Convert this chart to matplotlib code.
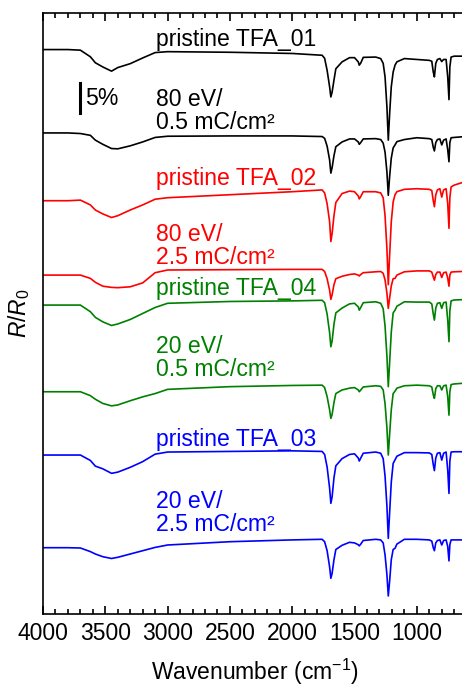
import numpy as np
import matplotlib
matplotlib.use('Agg')
import matplotlib.pyplot as plt

plt.rcParams['font.family'] = ['Liberation Sans', 'DejaVu Sans']
plt.rcParams['mathtext.fontset'] = 'custom'
plt.rcParams['mathtext.rm'] = 'Liberation Sans'
plt.rcParams['mathtext.it'] = 'Liberation Sans:italic'

# wavenumbers (cm-1) where the spectra were read
wn = [4000, 3800, 3700, 3620, 3580, 3520, 3450, 3400, 3300, 3200,
      3100, 3000, 2500, 2000, 1760, 1740, 1720, 1700, 1690, 1680,
      1665, 1650, 1600, 1540, 1500, 1470, 1462, 1450, 1430, 1330,
      1290, 1270, 1255, 1240, 1229, 1218, 1205, 1190, 1175, 1160,
      1100, 1000, 900, 880, 868, 859, 848, 835, 815, 800,
      785, 765, 752, 742, 735, 725, 700, 640]

# R/R0 in %, relative to each spectrum's value at 4000 cm-1
tfa01_pristine = [0, 0, -0.1, -1.2, -2.2, -2.9, -3.6, -3.0, -2.35, -1.4,
                  -0.5, -0.35, -0.45, -0.65, -0.95, -1.45, -3.45, -6.2, -7.9, -7.1,
                  -5.1, -3.2, -2.05, -1.35, -1.35, -2.05, -2.6, -2.25, -1.3, -1.25,
                  -1.5, -2.3, -4.55, -9.55, -15.1, -10.6, -6.2, -3.75, -2.6, -2.05,
                  -1.5, -1.65, -1.8, -1.95, -3.75, -4.55, -2.3, -1.65, -1.5, -2.0,
                  -1.65, -1.65, -4.55, -8.35, -2.9, -1.25, -1.1, -1.1]
tfa01_80ev = [0, 0, -0.1, -0.4, -1.2, -1.9, -2.6, -2.65, -2.15, -1.5,
              -0.75, -0.55, -0.5, -0.5, -0.6, -0.9, -2.2, -4.5, -6.7, -5.8,
              -3.8, -2.3, -1.5, -1.0, -1.0, -1.5, -1.9, -1.6, -1.0, -0.95,
              -1.1, -1.7, -3.2, -6.5, -10.4, -7.2, -4.2, -2.5, -2.0, -1.45,
              -1.1, -0.8, -0.95, -1.1, -2.4, -3.0, -1.6, -1.1, -1.0, -2.0,
              -1.2, -1.0, -2.8, -4.8, -1.6, -0.8, -0.75, -0.65]
tfa02_pristine = [0, 0, 0.1, -0.7, -1.55, -2.2, -2.8, -2.5, -1.55, -0.7,
                  0.25, 0.5, 1.0, 1.5, 1.8, 1.3, -0.5, -3.5, -6.8, -5.5,
                  -2.5, -0.3, 1.2, 1.6, 1.5, 0.8, 0.3, 0.7, 1.5, 1.5,
                  1.3, 0.5, -2.5, -8.0, -14.0, -9.0, -3.5, -0.2, 1.0, 1.5,
                  1.9, 2.0, 1.9, 1.7, 0.0, -1.0, 1.0, 1.8, 2.0, 0.6,
                  1.8, 2.0, -0.5, -4.6, 0.5, 2.3, 2.6, 3.0]
tfa02_80ev = [0, 0, 0, -0.55, -1.2, -1.85, -2.05, -2.1, -1.95, -1.3,
              0.4, 0.85, 0.9, 0.95, 0.95, 0.6, -0.6, -2.5, -4.05, -3.3,
              -1.6, -0.6, -0.2, 0.1, 0.2, 0.0, -0.15, 0.1, 0.4, 0.55,
              0.6, 0.3, -0.8, -3.0, -5.55, -3.8, -1.8, -0.6, -0.55, 0.0,
              0.55, 0.7, 0.7, 0.5, -0.3, -0.85, 0.1, 0.5, 0.5, -0.4,
              0.4, 0.5, -0.5, -1.85, 0.0, 0.5, 0.55, 0.6]
tfa04_pristine = [0, 0, 0, -1.1, -2.05, -2.8, -3.4, -3.15, -2.4, -1.4,
                  -0.4, 0.3, 0.6, 0.7, 0.8, 0.4, -1.5, -4.6, -6.95, -6.0,
                  -3.2, -1.3, -0.5, 0.2, 0.3, -0.3, -0.85, -0.4, 0.4, 0.55,
                  0.3, -0.6, -3.5, -8.5, -13.6, -9.5, -4.5, -1.3, -0.85, -0.2,
                  0.55, 0.5, 0.5, 0.2, -1.5, -2.5, -0.5, 0.3, 0.4, -0.55,
                  0.4, 0.5, -2.5, -6.1, -1.0, 0.7, 0.85, 0.9]
tfa04_20ev = [0, 0, 0, -0.65, -1.25, -1.95, -2.35, -2.2, -1.5, -0.85,
              -0.3, 0.4, 0.85, 1.05, 1.1, 0.7, -0.8, -3.0, -4.45, -3.8,
              -1.8, -0.3, 0.3, 0.6, 0.7, 0.3, 0.0, 0.3, 0.8, 1.0,
              0.9, 0.3, -2.0, -6.0, -10.55, -7.0, -3.0, -0.3, 0.1, 0.6,
              1.0, 1.1, 1.0, 0.8, -0.5, -1.1, 0.5, 1.0, 1.0, 0.3,
              1.0, 1.1, -0.8, -3.9, 0.0, 1.2, 1.3, 1.4]
tfa03_pristine = [0, 0, 0, -0.9, -1.85, -2.3, -3.05, -2.85, -2.05, -1.1,
                  0.15, 0.5, 0.6, 0.7, 0.6, 0.1, -2.0, -5.5, -8.05, -7.0,
                  -3.8, -1.8, -0.6, 0.1, 0.2, -0.5, -1.0, -0.5, 0.3, 0.5,
                  0.3, -0.6, -3.5, -8.5, -13.9, -9.5, -4.5, -1.4, -0.8, -0.2,
                  0.4, 0.4, 0.35, 0.1, -1.6, -2.6, -0.5, 0.3, 0.4, -0.85,
                  0.3, 0.5, -2.5, -6.4, -1.0, 0.5, 0.55, 0.55]
tfa03_20ev = [0, 0, -0.05, -0.65, -1.05, -1.5, -1.8, -1.6, -1.05, -0.5,
              0.05, 0.45, 1.0, 1.3, 1.4, 1.0, -0.5, -3.2, -5.1, -4.3,
              -2.0, -0.3, 0.4, 0.9, 0.8, 0.5, 0.3, 0.6, 1.2, 1.4,
              1.3, 0.8, -1.2, -4.5, -8.05, -5.5, -2.0, -0.3, -0.1, 0.6,
              1.4, 1.4, 1.3, 1.1, 0.0, -0.5, 0.8, 1.2, 1.3, 0.45,
              1.2, 1.3, 0.2, -2.2, 0.5, 1.3, 1.3, 1.3]

spectra = [tfa01_pristine, tfa01_80ev, tfa02_pristine, tfa02_80ev,
           tfa04_pristine, tfa04_20ev, tfa03_pristine, tfa03_20ev]
offsets = [94.1, 80.2, 68.9, 56.5, 51.5, 37.05, 26.5, 11.05]
colors = ['black', 'black', 'red', 'red', 'green', 'green', 'blue', 'blue']
labels = ['pristine TFA_01', '80 eV/\n0.5 mC/cm²',
          'pristine TFA_02', '80 eV/\n2.5 mC/cm²',
          'pristine TFA_04', '20 eV/\n0.5 mC/cm²',
          'pristine TFA_03', '20 eV/\n2.5 mC/cm²']
label_y = [97.7, 87.7, 74.5, 65.2, 56.2, 46.5, 31.0, 20.7]

fig = plt.figure(figsize=(4.62, 6.94), dpi=100)
ax = fig.add_axes([0.0931, 0.1153, 0.917, 0.866])

for s, off, c in zip(spectra, offsets, colors):
    ax.plot(wn, np.array(s) + off, color=c, lw=1.2)

for lab, y, c in zip(labels, label_y, colors):
    ax.text(3090, y, lab, color=c, fontsize=16.6, va='top', ha='left',
            linespacing=1.0)

# 5 % scale bar
ax.plot([3703, 3703], [83.5, 88.5], color='black', lw=2.2)
ax.text(3660, 86.0, '5%', fontsize=16.6, va='center', ha='left')

ax.set_xlim(4000, 600)
ax.set_ylim(0, 100.2)
ax.set_xticks(np.arange(4000, 999, -500))
ax.set_xticks(np.arange(4000, 600, -100), minor=True)
ax.set_yticks([])
ax.tick_params(axis='x', which='both', direction='in', top=True, bottom=True,
               labelsize=16.5, width=1.2, pad=6)
ax.tick_params(axis='x', which='major', length=6)
ax.tick_params(axis='x', which='minor', length=3.5)
for sp in ax.spines.values():
    sp.set_linewidth(1.2)
ax.set_xlabel('Wavenumber (cm$^{-1}$)', fontsize=16.5, labelpad=8)
ax.set_ylabel('$R/R_0$', fontsize=16.5, labelpad=8)

plt.savefig('out.png', dpi=100)
